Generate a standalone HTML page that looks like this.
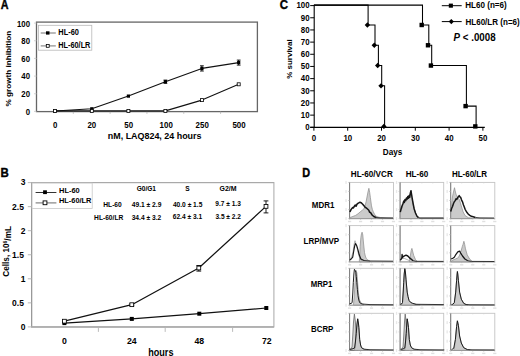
<!DOCTYPE html>
<html><head><meta charset="utf-8"><style>
html,body{margin:0;padding:0;background:#fff;width:520px;height:356px;overflow:hidden}
svg{display:block}
text{font-family:"Liberation Sans", sans-serif;fill:#000}
</style></head><body>
<svg width="520" height="356" viewBox="0 0 520 356">
<rect width="520" height="356" fill="#fff"/>
<text transform="translate(0.63 8.60) scale(1 1.160)" font-size="10.75" font-weight="bold" stroke="#000" stroke-width="0.35">A</text>
<rect x="36.50" y="22.10" width="220.90" height="89.50" fill="none" stroke="#666" stroke-width="1.3" />
<line x1="34.00" y1="111.40" x2="36.50" y2="111.40" stroke="#c8c8c8" stroke-width="0.8" />
<text transform="translate(30.00 114.50) scale(1 1.160)" font-size="7.80" font-weight="bold" text-anchor="end" >0</text>
<line x1="34.00" y1="93.74" x2="36.50" y2="93.74" stroke="#c8c8c8" stroke-width="0.8" />
<text transform="translate(30.00 96.92) scale(1 1.160)" font-size="7.80" font-weight="bold" text-anchor="end" >20</text>
<line x1="34.00" y1="76.08" x2="36.50" y2="76.08" stroke="#c8c8c8" stroke-width="0.8" />
<text transform="translate(30.00 79.34) scale(1 1.160)" font-size="7.80" font-weight="bold" text-anchor="end" >40</text>
<line x1="34.00" y1="58.42" x2="36.50" y2="58.42" stroke="#c8c8c8" stroke-width="0.8" />
<text transform="translate(30.00 61.76) scale(1 1.160)" font-size="7.80" font-weight="bold" text-anchor="end" >60</text>
<line x1="34.00" y1="40.76" x2="36.50" y2="40.76" stroke="#c8c8c8" stroke-width="0.8" />
<text transform="translate(30.00 44.18) scale(1 1.160)" font-size="7.80" font-weight="bold" text-anchor="end" >80</text>
<line x1="34.00" y1="23.10" x2="36.50" y2="23.10" stroke="#c8c8c8" stroke-width="0.8" />
<text transform="translate(30.00 26.60) scale(1 1.160)" font-size="7.80" font-weight="bold" text-anchor="end" >100</text>
<line x1="73.32" y1="111.60" x2="73.32" y2="113.80" stroke="#b0b0b0" stroke-width="0.8" />
<line x1="110.13" y1="111.60" x2="110.13" y2="113.80" stroke="#b0b0b0" stroke-width="0.8" />
<line x1="146.95" y1="111.60" x2="146.95" y2="113.80" stroke="#b0b0b0" stroke-width="0.8" />
<line x1="183.77" y1="111.60" x2="183.77" y2="113.80" stroke="#b0b0b0" stroke-width="0.8" />
<line x1="220.58" y1="111.60" x2="220.58" y2="113.80" stroke="#b0b0b0" stroke-width="0.8" />
<text transform="translate(55.20 127.60) scale(1 1.100)" font-size="7.90" font-weight="bold" text-anchor="middle" >0</text>
<text transform="translate(91.80 127.60) scale(1 1.100)" font-size="7.90" font-weight="bold" text-anchor="middle" >20</text>
<text transform="translate(128.70 127.60) scale(1 1.100)" font-size="7.90" font-weight="bold" text-anchor="middle" >50</text>
<text transform="translate(166.20 127.60) scale(1 1.100)" font-size="7.90" font-weight="bold" text-anchor="middle" >100</text>
<text transform="translate(202.20 127.60) scale(1 1.100)" font-size="7.90" font-weight="bold" text-anchor="middle" >250</text>
<text transform="translate(239.00 127.60) scale(1 1.100)" font-size="7.90" font-weight="bold" text-anchor="middle" >500</text>
<text transform="translate(107.82 138.80) scale(1 1.080)" font-size="8.93" font-weight="bold" >nM, LAQ824, 24 hours</text>
<text transform="translate(11.00 106.40) rotate(-90) scale(1 0.930)" font-size="8.18" font-weight="bold">% growth inhibition</text>
<rect x="38.50" y="25.30" width="53.30" height="24.90" fill="#fff" stroke="#b8b8b8" stroke-width="0.8" />
<line x1="40.70" y1="33.00" x2="55.80" y2="33.00" stroke="#808080" stroke-width="1.1" />
<rect x="46.00" y="31.30" width="3.50" height="3.30" fill="#000" stroke="none" stroke-width="1" />
<text transform="translate(58.32 34.80) scale(1 1.150)" font-size="7.42" font-weight="bold" >HL-60</text>
<line x1="40.70" y1="45.90" x2="55.80" y2="45.90" stroke="#808080" stroke-width="1.1" />
<rect x="46.30" y="44.40" width="2.90" height="2.90" fill="#fff" stroke="#000" stroke-width="0.8" />
<text transform="translate(58.32 47.80) scale(1 1.150)" font-size="7.33" font-weight="bold" >HL-60/LR</text>
<polyline points="55.00,110.90 91.80,110.90 128.40,110.90 165.40,110.90 201.90,100.10 238.70,84.30" fill="none" stroke="#111" stroke-width="1.1" stroke-linejoin="round"/>
<polyline points="55.00,111.00 91.80,108.80 128.40,96.10 165.40,81.70 201.90,68.40 238.70,62.60" fill="none" stroke="#111" stroke-width="1.1" stroke-linejoin="round"/>
<line x1="165.40" y1="80.10" x2="165.40" y2="83.30" stroke="#000" stroke-width="1" />
<line x1="163.50" y1="80.10" x2="167.30" y2="80.10" stroke="#000" stroke-width="0.9" />
<line x1="163.50" y1="83.30" x2="167.30" y2="83.30" stroke="#000" stroke-width="0.9" />
<line x1="201.90" y1="65.80" x2="201.90" y2="71.00" stroke="#000" stroke-width="1" />
<line x1="200.00" y1="65.80" x2="203.80" y2="65.80" stroke="#000" stroke-width="0.9" />
<line x1="200.00" y1="71.00" x2="203.80" y2="71.00" stroke="#000" stroke-width="0.9" />
<line x1="238.70" y1="60.10" x2="238.70" y2="65.10" stroke="#000" stroke-width="1" />
<line x1="236.80" y1="60.10" x2="240.60" y2="60.10" stroke="#000" stroke-width="0.9" />
<line x1="236.80" y1="65.10" x2="240.60" y2="65.10" stroke="#000" stroke-width="0.9" />
<rect x="53.40" y="109.40" width="3.20" height="3.20" fill="#000" stroke="none" stroke-width="1" />
<rect x="90.20" y="107.20" width="3.20" height="3.20" fill="#000" stroke="none" stroke-width="1" />
<rect x="126.80" y="94.50" width="3.20" height="3.20" fill="#000" stroke="none" stroke-width="1" />
<rect x="163.80" y="80.10" width="3.20" height="3.20" fill="#000" stroke="none" stroke-width="1" />
<rect x="200.30" y="66.80" width="3.20" height="3.20" fill="#000" stroke="none" stroke-width="1" />
<rect x="237.10" y="61.00" width="3.20" height="3.20" fill="#000" stroke="none" stroke-width="1" />
<rect x="53.50" y="109.40" width="3.00" height="3.00" fill="#fff" stroke="#000" stroke-width="0.8" />
<rect x="90.30" y="109.40" width="3.00" height="3.00" fill="#fff" stroke="#000" stroke-width="0.8" />
<rect x="126.90" y="109.40" width="3.00" height="3.00" fill="#fff" stroke="#000" stroke-width="0.8" />
<rect x="163.90" y="109.40" width="3.00" height="3.00" fill="#fff" stroke="#000" stroke-width="0.8" />
<rect x="200.40" y="98.60" width="3.00" height="3.00" fill="#fff" stroke="#000" stroke-width="0.8" />
<rect x="237.20" y="82.80" width="3.00" height="3.00" fill="#fff" stroke="#000" stroke-width="0.8" />
<text transform="translate(0.55 177.20) scale(1 1.120)" font-size="11.48" font-weight="bold" stroke="#000" stroke-width="0.35">B</text>
<rect x="31.60" y="182.60" width="242.30" height="144.30" fill="none" stroke="#b0b0b0" stroke-width="1.1" />
<line x1="31.60" y1="182.60" x2="31.60" y2="326.90" stroke="#999" stroke-width="1.2" />
<line x1="31.10" y1="326.90" x2="273.90" y2="326.90" stroke="#a8a8a8" stroke-width="1.5" />
<line x1="31.60" y1="182.60" x2="273.90" y2="182.60" stroke="#a8a8a8" stroke-width="1" />
<line x1="27.80" y1="326.90" x2="31.60" y2="326.90" stroke="#b0b0b0" stroke-width="0.9" />
<text transform="translate(25.50 329.75) scale(1 1.000)" font-size="8.50" font-weight="bold" text-anchor="end" >0</text>
<line x1="27.80" y1="302.85" x2="31.60" y2="302.85" stroke="#b0b0b0" stroke-width="0.9" />
<text transform="translate(23.90 305.70) scale(1 1.000)" font-size="8.50" font-weight="bold" text-anchor="end" >0.5</text>
<line x1="27.80" y1="278.80" x2="31.60" y2="278.80" stroke="#b0b0b0" stroke-width="0.9" />
<text transform="translate(25.50 281.65) scale(1 1.000)" font-size="8.50" font-weight="bold" text-anchor="end" >1</text>
<line x1="27.80" y1="254.75" x2="31.60" y2="254.75" stroke="#b0b0b0" stroke-width="0.9" />
<text transform="translate(23.90 257.60) scale(1 1.000)" font-size="8.50" font-weight="bold" text-anchor="end" >1.5</text>
<line x1="27.80" y1="230.70" x2="31.60" y2="230.70" stroke="#b0b0b0" stroke-width="0.9" />
<text transform="translate(25.50 233.55) scale(1 1.000)" font-size="8.50" font-weight="bold" text-anchor="end" >2</text>
<line x1="27.80" y1="206.65" x2="31.60" y2="206.65" stroke="#b0b0b0" stroke-width="0.9" />
<text transform="translate(23.90 209.50) scale(1 1.000)" font-size="8.50" font-weight="bold" text-anchor="end" >2.5</text>
<line x1="27.80" y1="182.60" x2="31.60" y2="182.60" stroke="#b0b0b0" stroke-width="0.9" />
<text transform="translate(25.50 185.45) scale(1 1.000)" font-size="8.50" font-weight="bold" text-anchor="end" >3</text>
<line x1="98.40" y1="326.90" x2="98.40" y2="331.90" stroke="#b4b4b4" stroke-width="0.9" />
<line x1="165.20" y1="326.90" x2="165.20" y2="331.90" stroke="#b4b4b4" stroke-width="0.9" />
<line x1="232.60" y1="326.90" x2="232.60" y2="331.90" stroke="#b4b4b4" stroke-width="0.9" />
<text transform="translate(64.40 344.00) scale(1 1.020)" font-size="8.70" font-weight="bold" text-anchor="middle" >0</text>
<text transform="translate(131.80 344.00) scale(1 1.020)" font-size="8.70" font-weight="bold" text-anchor="middle" >24</text>
<text transform="translate(199.30 344.00) scale(1 1.020)" font-size="8.70" font-weight="bold" text-anchor="middle" >48</text>
<text transform="translate(266.80 344.00) scale(1 1.020)" font-size="8.70" font-weight="bold" text-anchor="middle" >72</text>
<text transform="translate(160.80 356.40) scale(1 1.120)" font-size="9.10" font-weight="bold" text-anchor="middle" >hours</text>
<text transform="translate(9.40 276.63) rotate(-90) scale(1 1.100)" font-size="8.19" font-weight="bold">Cells, 10<tspan font-size="0.62em" dy="-0.42em">6</tspan><tspan dy="0.42em">/mL</tspan></text>
<rect x="32.10" y="183.10" width="60.10" height="25.40" fill="#fff" stroke="#c8c8c8" stroke-width="0.8" />
<line x1="35.60" y1="192.50" x2="56.40" y2="192.50" stroke="#333" stroke-width="1.0" />
<rect x="43.10" y="190.30" width="3.80" height="3.80" fill="#000" stroke="none" stroke-width="1" />
<text transform="translate(59.02 192.80) scale(1 1.050)" font-size="7.45" font-weight="bold" >HL-60</text>
<line x1="35.60" y1="202.90" x2="56.40" y2="202.90" stroke="#777" stroke-width="1.1" />
<rect x="43.10" y="200.90" width="3.80" height="3.80" fill="#fff" stroke="#000" stroke-width="0.9" />
<text transform="translate(59.02 203.30) scale(1 1.050)" font-size="7.40" font-weight="bold" >HL-60/LR</text>
<text transform="translate(136.64 190.60) scale(1 1.050)" font-size="6.60" font-weight="bold" >G0/G1</text>
<text transform="translate(187.50 190.90) scale(1 1.100)" font-size="6.60" font-weight="bold" text-anchor="middle" >S</text>
<text transform="translate(219.52 190.60) scale(1 1.050)" font-size="6.94" font-weight="bold" >G2/M</text>
<text transform="translate(103.27 206.50) scale(1 1.050)" font-size="6.67" font-weight="bold" >HL-60</text>
<text transform="translate(94.07 219.70) scale(1 1.050)" font-size="6.67" font-weight="bold" >HL-60/LR</text>
<text transform="translate(131.70 206.60) scale(1 1.050)" font-size="6.70" font-weight="bold" >49.1 ± 2.9</text>
<text transform="translate(131.63 219.50) scale(1 1.050)" font-size="6.67" font-weight="bold" >34.4 ± 3.2</text>
<text transform="translate(172.90 206.50) scale(1 1.050)" font-size="6.64" font-weight="bold" >40.0 ± 1.5</text>
<text transform="translate(172.77 219.30) scale(1 1.050)" font-size="6.62" font-weight="bold" >62.4 ± 3.1</text>
<text transform="translate(215.37 206.40) scale(1 1.050)" font-size="6.55" font-weight="bold" >9.7 ± 1.3</text>
<text transform="translate(215.44 218.80) scale(1 1.050)" font-size="6.57" font-weight="bold" >3.5 ± 2.2</text>
<polyline points="64.40,321.20 131.80,304.70 198.80,268.00 266.00,206.40" fill="none" stroke="#111" stroke-width="1.25" stroke-linejoin="round"/>
<polyline points="64.40,323.10 131.80,318.90 199.30,313.70 266.30,308.00" fill="none" stroke="#111" stroke-width="1.2" stroke-linejoin="round"/>
<line x1="131.80" y1="303.80" x2="131.80" y2="305.60" stroke="#000" stroke-width="0.9" />
<line x1="129.40" y1="303.80" x2="134.20" y2="303.80" stroke="#000" stroke-width="0.9" />
<line x1="129.40" y1="305.60" x2="134.20" y2="305.60" stroke="#000" stroke-width="0.9" />
<line x1="198.80" y1="265.50" x2="198.80" y2="271.10" stroke="#000" stroke-width="0.9" />
<line x1="196.40" y1="265.50" x2="201.20" y2="265.50" stroke="#000" stroke-width="0.9" />
<line x1="196.40" y1="271.10" x2="201.20" y2="271.10" stroke="#000" stroke-width="0.9" />
<line x1="266.00" y1="200.90" x2="266.00" y2="212.90" stroke="#000" stroke-width="0.9" />
<line x1="263.60" y1="200.90" x2="268.40" y2="200.90" stroke="#000" stroke-width="0.9" />
<line x1="263.60" y1="212.90" x2="268.40" y2="212.90" stroke="#000" stroke-width="0.9" />
<rect x="62.40" y="321.10" width="4.00" height="4.00" fill="#000" stroke="none" stroke-width="1" />
<rect x="129.80" y="316.90" width="4.00" height="4.00" fill="#000" stroke="none" stroke-width="1" />
<rect x="197.30" y="311.70" width="4.00" height="4.00" fill="#000" stroke="none" stroke-width="1" />
<rect x="264.30" y="306.00" width="4.00" height="4.00" fill="#000" stroke="none" stroke-width="1" />
<rect x="62.50" y="319.30" width="3.80" height="3.80" fill="#fff" stroke="#000" stroke-width="0.85" />
<rect x="129.90" y="302.80" width="3.80" height="3.80" fill="#fff" stroke="#000" stroke-width="0.85" />
<rect x="196.90" y="266.10" width="3.80" height="3.80" fill="#fff" stroke="#000" stroke-width="0.85" />
<rect x="264.10" y="204.50" width="3.80" height="3.80" fill="#fff" stroke="#000" stroke-width="0.85" />
<text transform="translate(279.74 8.60) scale(1 1.160)" font-size="11.45" font-weight="bold" stroke="#000" stroke-width="0.35">C</text>
<line x1="314.20" y1="5.10" x2="314.20" y2="128.00" stroke="#000" stroke-width="1.1" />
<line x1="310.20" y1="127.40" x2="484.80" y2="127.40" stroke="#000" stroke-width="1.1" />
<line x1="310.20" y1="127.30" x2="314.20" y2="127.30" stroke="#000" stroke-width="1" />
<text transform="translate(309.60 130.05) scale(1 1.050)" font-size="7.90" font-weight="bold" text-anchor="end" >0</text>
<line x1="310.20" y1="115.13" x2="314.20" y2="115.13" stroke="#000" stroke-width="1" />
<text transform="translate(309.60 117.88) scale(1 1.050)" font-size="7.90" font-weight="bold" text-anchor="end" >10</text>
<line x1="310.20" y1="102.96" x2="314.20" y2="102.96" stroke="#000" stroke-width="1" />
<text transform="translate(309.60 105.71) scale(1 1.050)" font-size="7.90" font-weight="bold" text-anchor="end" >20</text>
<line x1="310.20" y1="90.79" x2="314.20" y2="90.79" stroke="#000" stroke-width="1" />
<text transform="translate(309.60 93.54) scale(1 1.050)" font-size="7.90" font-weight="bold" text-anchor="end" >30</text>
<line x1="310.20" y1="78.62" x2="314.20" y2="78.62" stroke="#000" stroke-width="1" />
<text transform="translate(309.60 81.37) scale(1 1.050)" font-size="7.90" font-weight="bold" text-anchor="end" >40</text>
<line x1="310.20" y1="66.45" x2="314.20" y2="66.45" stroke="#000" stroke-width="1" />
<text transform="translate(309.60 69.20) scale(1 1.050)" font-size="7.90" font-weight="bold" text-anchor="end" >50</text>
<line x1="310.20" y1="54.28" x2="314.20" y2="54.28" stroke="#000" stroke-width="1" />
<text transform="translate(309.60 57.03) scale(1 1.050)" font-size="7.90" font-weight="bold" text-anchor="end" >60</text>
<line x1="310.20" y1="42.11" x2="314.20" y2="42.11" stroke="#000" stroke-width="1" />
<text transform="translate(309.60 44.86) scale(1 1.050)" font-size="7.90" font-weight="bold" text-anchor="end" >70</text>
<line x1="310.20" y1="29.94" x2="314.20" y2="29.94" stroke="#000" stroke-width="1" />
<text transform="translate(309.60 32.69) scale(1 1.050)" font-size="7.90" font-weight="bold" text-anchor="end" >80</text>
<line x1="310.20" y1="17.77" x2="314.20" y2="17.77" stroke="#000" stroke-width="1" />
<text transform="translate(309.60 20.52) scale(1 1.050)" font-size="7.90" font-weight="bold" text-anchor="end" >90</text>
<line x1="310.20" y1="5.60" x2="314.20" y2="5.60" stroke="#000" stroke-width="1" />
<text transform="translate(309.60 8.35) scale(1 1.050)" font-size="7.90" font-weight="bold" text-anchor="end" >100</text>
<line x1="313.90" y1="127.40" x2="313.90" y2="130.70" stroke="#000" stroke-width="1" />
<text transform="translate(314.00 140.80) scale(1 1.100)" font-size="7.90" font-weight="bold" text-anchor="middle" >0</text>
<line x1="347.70" y1="127.40" x2="347.70" y2="130.70" stroke="#000" stroke-width="1" />
<text transform="translate(347.80 140.80) scale(1 1.100)" font-size="7.90" font-weight="bold" text-anchor="middle" >10</text>
<line x1="381.50" y1="127.40" x2="381.50" y2="130.70" stroke="#000" stroke-width="1" />
<text transform="translate(381.60 140.80) scale(1 1.100)" font-size="7.90" font-weight="bold" text-anchor="middle" >20</text>
<line x1="415.30" y1="127.40" x2="415.30" y2="130.70" stroke="#000" stroke-width="1" />
<text transform="translate(415.40 140.80) scale(1 1.100)" font-size="7.90" font-weight="bold" text-anchor="middle" >30</text>
<line x1="449.10" y1="127.40" x2="449.10" y2="130.70" stroke="#000" stroke-width="1" />
<text transform="translate(449.20 140.80) scale(1 1.100)" font-size="7.90" font-weight="bold" text-anchor="middle" >40</text>
<line x1="482.90" y1="127.40" x2="482.90" y2="130.70" stroke="#000" stroke-width="1" />
<text transform="translate(483.00 140.80) scale(1 1.100)" font-size="7.90" font-weight="bold" text-anchor="middle" >50</text>
<text transform="translate(382.87 154.90) scale(1 1.080)" font-size="8.18" font-weight="bold" >Days</text>
<text transform="translate(292.10 78.70) rotate(-90) scale(1 1.000)" font-size="7.96" font-weight="bold">% survival</text>
<path d="M313.90,5.1 H422.50 V24.99 H428.80 V45.26 H431.70 V65.55 H466.40 V106.11 H476.10 V126.40" stroke="#000" stroke-width="1.05" fill="none" />
<path d="M313.90,5.1 H368.10 V24.99 H375.00 V45.26 H378.40 V65.55 H381.70 V85.84 H384.60 V126.40" stroke="#000" stroke-width="1.05" fill="none" />
<rect x="419.50" y="22.79" width="4.40" height="4.40" fill="#000" stroke="none" stroke-width="1" />
<rect x="425.80" y="43.06" width="4.40" height="4.40" fill="#000" stroke="none" stroke-width="1" />
<rect x="428.70" y="63.35" width="4.40" height="4.40" fill="#000" stroke="none" stroke-width="1" />
<rect x="463.40" y="103.91" width="4.40" height="4.40" fill="#000" stroke="none" stroke-width="1" />
<rect x="473.10" y="124.20" width="4.40" height="4.40" fill="#000" stroke="none" stroke-width="1" />
<path d="M367.40,22.29 L370.10,24.99 L367.40,27.69 L364.70,24.99 Z" stroke="none" stroke-width="0" fill="#000" />
<path d="M374.30,42.56 L377.00,45.26 L374.30,47.96 L371.60,45.26 Z" stroke="none" stroke-width="0" fill="#000" />
<path d="M377.70,62.85 L380.40,65.55 L377.70,68.25 L375.00,65.55 Z" stroke="none" stroke-width="0" fill="#000" />
<path d="M381.00,83.14 L383.70,85.84 L381.00,88.54 L378.30,85.84 Z" stroke="none" stroke-width="0" fill="#000" />
<path d="M383.90,123.70 L386.60,126.40 L383.90,129.10 L381.20,126.40 Z" stroke="none" stroke-width="0" fill="#000" />
<line x1="441.80" y1="5.70" x2="461.70" y2="5.70" stroke="#000" stroke-width="1" />
<rect x="448.80" y="3.60" width="4.10" height="4.10" fill="#000" stroke="none" stroke-width="1" />
<text transform="translate(465.27 8.30) scale(1 1.100)" font-size="8.08" font-weight="bold" >HL60 (n=6)</text>
<line x1="441.80" y1="21.60" x2="461.70" y2="21.60" stroke="#000" stroke-width="1" />
<path d="M451.30,19.00 L453.90,21.60 L451.30,24.20 L448.70,21.60 Z" stroke="none" stroke-width="0" fill="#000" />
<text transform="translate(465.44 24.50) scale(1 1.100)" font-size="8.05" font-weight="bold" text-anchor="start" >HL60/LR (n=6)</text>
<text transform="translate(453.57 40.70) scale(1 1.050)" font-size="9.75" font-weight="bold" ><tspan font-style="italic">P</tspan> &lt; .0008</text>
<text transform="translate(302.29 177.10) scale(1 1.120)" font-size="10.89" font-weight="bold" stroke="#000" stroke-width="0.35">D</text>
<text transform="translate(350.77 177.10) scale(1 1.120)" font-size="8.13" font-weight="bold" >HL-60/VCR</text>
<text transform="translate(405.67 177.10) scale(1 1.120)" font-size="8.13" font-weight="bold" >HL-60</text>
<text transform="translate(451.88 177.10) scale(1 1.120)" font-size="8.00" font-weight="bold" >HL-60/LR</text>
<text transform="translate(311.78 208.00) scale(1 1.100)" font-size="7.99" font-weight="bold" >MDR1</text>
<text transform="translate(303.48 244.00) scale(1 1.100)" font-size="8.05" font-weight="bold" >LRP/MVP</text>
<text transform="translate(310.69 286.70) scale(1 1.100)" font-size="7.82" font-weight="bold" >MRP1</text>
<text transform="translate(310.99 331.90) scale(1 1.100)" font-size="7.90" font-weight="bold" >BCRP</text>
<rect x="349.60" y="182.40" width="43.90" height="36.20" fill="none" stroke="#c4c4c4" stroke-width="0.9" />
<line x1="349.60" y1="182.40" x2="349.60" y2="218.60" stroke="#7c7c7c" stroke-width="1.0" />
<line x1="349.60" y1="218.60" x2="393.50" y2="218.60" stroke="#9a9a9a" stroke-width="0.9" />
<line x1="348.00" y1="218.60" x2="349.60" y2="218.60" stroke="#b8b8b8" stroke-width="0.6" />
<rect x="345.40" y="217.10" width="1.30" height="3.00" fill="#e8e8e8" stroke="none" stroke-width="1" />
<line x1="348.00" y1="209.55" x2="349.60" y2="209.55" stroke="#b8b8b8" stroke-width="0.6" />
<rect x="345.40" y="208.05" width="1.30" height="3.00" fill="#e8e8e8" stroke="none" stroke-width="1" />
<line x1="348.00" y1="200.50" x2="349.60" y2="200.50" stroke="#b8b8b8" stroke-width="0.6" />
<rect x="345.40" y="199.00" width="1.30" height="3.00" fill="#e8e8e8" stroke="none" stroke-width="1" />
<line x1="348.00" y1="191.45" x2="349.60" y2="191.45" stroke="#b8b8b8" stroke-width="0.6" />
<rect x="345.40" y="189.95" width="1.30" height="3.00" fill="#e8e8e8" stroke="none" stroke-width="1" />
<line x1="348.00" y1="182.40" x2="349.60" y2="182.40" stroke="#b8b8b8" stroke-width="0.6" />
<rect x="345.40" y="180.90" width="1.30" height="3.00" fill="#e8e8e8" stroke="none" stroke-width="1" />
<line x1="349.60" y1="218.60" x2="349.60" y2="219.90" stroke="#b8b8b8" stroke-width="0.6" />
<rect x="348.00" y="220.80" width="3.20" height="1.40" fill="#e0e0e0" stroke="none" stroke-width="1" />
<line x1="360.58" y1="218.60" x2="360.58" y2="219.90" stroke="#b8b8b8" stroke-width="0.6" />
<rect x="358.98" y="220.80" width="3.20" height="1.40" fill="#e0e0e0" stroke="none" stroke-width="1" />
<line x1="371.55" y1="218.60" x2="371.55" y2="219.90" stroke="#b8b8b8" stroke-width="0.6" />
<rect x="369.95" y="220.80" width="3.20" height="1.40" fill="#e0e0e0" stroke="none" stroke-width="1" />
<line x1="382.52" y1="218.60" x2="382.52" y2="219.90" stroke="#b8b8b8" stroke-width="0.6" />
<rect x="380.92" y="220.80" width="3.20" height="1.40" fill="#e0e0e0" stroke="none" stroke-width="1" />
<line x1="393.50" y1="218.60" x2="393.50" y2="219.90" stroke="#b8b8b8" stroke-width="0.6" />
<rect x="391.90" y="220.80" width="3.20" height="1.40" fill="#e0e0e0" stroke="none" stroke-width="1" />
<line x1="360.58" y1="182.40" x2="360.58" y2="183.60" stroke="#d0d0d0" stroke-width="0.5" />
<line x1="371.55" y1="182.40" x2="371.55" y2="183.60" stroke="#d0d0d0" stroke-width="0.5" />
<line x1="382.52" y1="182.40" x2="382.52" y2="183.60" stroke="#d0d0d0" stroke-width="0.5" />
<rect x="400.10" y="182.40" width="43.60" height="36.20" fill="none" stroke="#c4c4c4" stroke-width="0.9" />
<line x1="400.10" y1="182.40" x2="400.10" y2="218.60" stroke="#7c7c7c" stroke-width="1.0" />
<line x1="400.10" y1="218.60" x2="443.70" y2="218.60" stroke="#9a9a9a" stroke-width="0.9" />
<line x1="398.50" y1="218.60" x2="400.10" y2="218.60" stroke="#b8b8b8" stroke-width="0.6" />
<rect x="395.90" y="217.10" width="1.30" height="3.00" fill="#e8e8e8" stroke="none" stroke-width="1" />
<line x1="398.50" y1="209.55" x2="400.10" y2="209.55" stroke="#b8b8b8" stroke-width="0.6" />
<rect x="395.90" y="208.05" width="1.30" height="3.00" fill="#e8e8e8" stroke="none" stroke-width="1" />
<line x1="398.50" y1="200.50" x2="400.10" y2="200.50" stroke="#b8b8b8" stroke-width="0.6" />
<rect x="395.90" y="199.00" width="1.30" height="3.00" fill="#e8e8e8" stroke="none" stroke-width="1" />
<line x1="398.50" y1="191.45" x2="400.10" y2="191.45" stroke="#b8b8b8" stroke-width="0.6" />
<rect x="395.90" y="189.95" width="1.30" height="3.00" fill="#e8e8e8" stroke="none" stroke-width="1" />
<line x1="398.50" y1="182.40" x2="400.10" y2="182.40" stroke="#b8b8b8" stroke-width="0.6" />
<rect x="395.90" y="180.90" width="1.30" height="3.00" fill="#e8e8e8" stroke="none" stroke-width="1" />
<line x1="400.10" y1="218.60" x2="400.10" y2="219.90" stroke="#b8b8b8" stroke-width="0.6" />
<rect x="398.50" y="220.80" width="3.20" height="1.40" fill="#e0e0e0" stroke="none" stroke-width="1" />
<line x1="411.00" y1="218.60" x2="411.00" y2="219.90" stroke="#b8b8b8" stroke-width="0.6" />
<rect x="409.40" y="220.80" width="3.20" height="1.40" fill="#e0e0e0" stroke="none" stroke-width="1" />
<line x1="421.90" y1="218.60" x2="421.90" y2="219.90" stroke="#b8b8b8" stroke-width="0.6" />
<rect x="420.30" y="220.80" width="3.20" height="1.40" fill="#e0e0e0" stroke="none" stroke-width="1" />
<line x1="432.80" y1="218.60" x2="432.80" y2="219.90" stroke="#b8b8b8" stroke-width="0.6" />
<rect x="431.20" y="220.80" width="3.20" height="1.40" fill="#e0e0e0" stroke="none" stroke-width="1" />
<line x1="443.70" y1="218.60" x2="443.70" y2="219.90" stroke="#b8b8b8" stroke-width="0.6" />
<rect x="442.10" y="220.80" width="3.20" height="1.40" fill="#e0e0e0" stroke="none" stroke-width="1" />
<line x1="411.00" y1="182.40" x2="411.00" y2="183.60" stroke="#d0d0d0" stroke-width="0.5" />
<line x1="421.90" y1="182.40" x2="421.90" y2="183.60" stroke="#d0d0d0" stroke-width="0.5" />
<line x1="432.80" y1="182.40" x2="432.80" y2="183.60" stroke="#d0d0d0" stroke-width="0.5" />
<rect x="450.70" y="182.40" width="44.10" height="36.20" fill="none" stroke="#c4c4c4" stroke-width="0.9" />
<line x1="450.70" y1="182.40" x2="450.70" y2="218.60" stroke="#7c7c7c" stroke-width="1.0" />
<line x1="450.70" y1="218.60" x2="494.80" y2="218.60" stroke="#9a9a9a" stroke-width="0.9" />
<line x1="449.10" y1="218.60" x2="450.70" y2="218.60" stroke="#b8b8b8" stroke-width="0.6" />
<rect x="446.50" y="217.10" width="1.30" height="3.00" fill="#e8e8e8" stroke="none" stroke-width="1" />
<line x1="449.10" y1="209.55" x2="450.70" y2="209.55" stroke="#b8b8b8" stroke-width="0.6" />
<rect x="446.50" y="208.05" width="1.30" height="3.00" fill="#e8e8e8" stroke="none" stroke-width="1" />
<line x1="449.10" y1="200.50" x2="450.70" y2="200.50" stroke="#b8b8b8" stroke-width="0.6" />
<rect x="446.50" y="199.00" width="1.30" height="3.00" fill="#e8e8e8" stroke="none" stroke-width="1" />
<line x1="449.10" y1="191.45" x2="450.70" y2="191.45" stroke="#b8b8b8" stroke-width="0.6" />
<rect x="446.50" y="189.95" width="1.30" height="3.00" fill="#e8e8e8" stroke="none" stroke-width="1" />
<line x1="449.10" y1="182.40" x2="450.70" y2="182.40" stroke="#b8b8b8" stroke-width="0.6" />
<rect x="446.50" y="180.90" width="1.30" height="3.00" fill="#e8e8e8" stroke="none" stroke-width="1" />
<line x1="450.70" y1="218.60" x2="450.70" y2="219.90" stroke="#b8b8b8" stroke-width="0.6" />
<rect x="449.10" y="220.80" width="3.20" height="1.40" fill="#e0e0e0" stroke="none" stroke-width="1" />
<line x1="461.73" y1="218.60" x2="461.73" y2="219.90" stroke="#b8b8b8" stroke-width="0.6" />
<rect x="460.12" y="220.80" width="3.20" height="1.40" fill="#e0e0e0" stroke="none" stroke-width="1" />
<line x1="472.75" y1="218.60" x2="472.75" y2="219.90" stroke="#b8b8b8" stroke-width="0.6" />
<rect x="471.15" y="220.80" width="3.20" height="1.40" fill="#e0e0e0" stroke="none" stroke-width="1" />
<line x1="483.77" y1="218.60" x2="483.77" y2="219.90" stroke="#b8b8b8" stroke-width="0.6" />
<rect x="482.17" y="220.80" width="3.20" height="1.40" fill="#e0e0e0" stroke="none" stroke-width="1" />
<line x1="494.80" y1="218.60" x2="494.80" y2="219.90" stroke="#b8b8b8" stroke-width="0.6" />
<rect x="493.20" y="220.80" width="3.20" height="1.40" fill="#e0e0e0" stroke="none" stroke-width="1" />
<line x1="461.73" y1="182.40" x2="461.73" y2="183.60" stroke="#d0d0d0" stroke-width="0.5" />
<line x1="472.75" y1="182.40" x2="472.75" y2="183.60" stroke="#d0d0d0" stroke-width="0.5" />
<line x1="483.77" y1="182.40" x2="483.77" y2="183.60" stroke="#d0d0d0" stroke-width="0.5" />
<rect x="349.60" y="225.60" width="43.90" height="36.30" fill="none" stroke="#c4c4c4" stroke-width="0.9" />
<line x1="349.60" y1="225.60" x2="349.60" y2="261.90" stroke="#7c7c7c" stroke-width="1.0" />
<line x1="349.60" y1="261.90" x2="393.50" y2="261.90" stroke="#9a9a9a" stroke-width="0.9" />
<line x1="348.00" y1="261.90" x2="349.60" y2="261.90" stroke="#b8b8b8" stroke-width="0.6" />
<rect x="345.40" y="260.40" width="1.30" height="3.00" fill="#e8e8e8" stroke="none" stroke-width="1" />
<line x1="348.00" y1="252.82" x2="349.60" y2="252.82" stroke="#b8b8b8" stroke-width="0.6" />
<rect x="345.40" y="251.32" width="1.30" height="3.00" fill="#e8e8e8" stroke="none" stroke-width="1" />
<line x1="348.00" y1="243.75" x2="349.60" y2="243.75" stroke="#b8b8b8" stroke-width="0.6" />
<rect x="345.40" y="242.25" width="1.30" height="3.00" fill="#e8e8e8" stroke="none" stroke-width="1" />
<line x1="348.00" y1="234.67" x2="349.60" y2="234.67" stroke="#b8b8b8" stroke-width="0.6" />
<rect x="345.40" y="233.17" width="1.30" height="3.00" fill="#e8e8e8" stroke="none" stroke-width="1" />
<line x1="348.00" y1="225.60" x2="349.60" y2="225.60" stroke="#b8b8b8" stroke-width="0.6" />
<rect x="345.40" y="224.10" width="1.30" height="3.00" fill="#e8e8e8" stroke="none" stroke-width="1" />
<line x1="349.60" y1="261.90" x2="349.60" y2="263.20" stroke="#b8b8b8" stroke-width="0.6" />
<rect x="348.00" y="264.10" width="3.20" height="1.40" fill="#e0e0e0" stroke="none" stroke-width="1" />
<line x1="360.58" y1="261.90" x2="360.58" y2="263.20" stroke="#b8b8b8" stroke-width="0.6" />
<rect x="358.98" y="264.10" width="3.20" height="1.40" fill="#e0e0e0" stroke="none" stroke-width="1" />
<line x1="371.55" y1="261.90" x2="371.55" y2="263.20" stroke="#b8b8b8" stroke-width="0.6" />
<rect x="369.95" y="264.10" width="3.20" height="1.40" fill="#e0e0e0" stroke="none" stroke-width="1" />
<line x1="382.52" y1="261.90" x2="382.52" y2="263.20" stroke="#b8b8b8" stroke-width="0.6" />
<rect x="380.92" y="264.10" width="3.20" height="1.40" fill="#e0e0e0" stroke="none" stroke-width="1" />
<line x1="393.50" y1="261.90" x2="393.50" y2="263.20" stroke="#b8b8b8" stroke-width="0.6" />
<rect x="391.90" y="264.10" width="3.20" height="1.40" fill="#e0e0e0" stroke="none" stroke-width="1" />
<line x1="360.58" y1="225.60" x2="360.58" y2="226.80" stroke="#d0d0d0" stroke-width="0.5" />
<line x1="371.55" y1="225.60" x2="371.55" y2="226.80" stroke="#d0d0d0" stroke-width="0.5" />
<line x1="382.52" y1="225.60" x2="382.52" y2="226.80" stroke="#d0d0d0" stroke-width="0.5" />
<rect x="400.10" y="225.60" width="43.60" height="36.30" fill="none" stroke="#c4c4c4" stroke-width="0.9" />
<line x1="400.10" y1="225.60" x2="400.10" y2="261.90" stroke="#7c7c7c" stroke-width="1.0" />
<line x1="400.10" y1="261.90" x2="443.70" y2="261.90" stroke="#9a9a9a" stroke-width="0.9" />
<line x1="398.50" y1="261.90" x2="400.10" y2="261.90" stroke="#b8b8b8" stroke-width="0.6" />
<rect x="395.90" y="260.40" width="1.30" height="3.00" fill="#e8e8e8" stroke="none" stroke-width="1" />
<line x1="398.50" y1="252.82" x2="400.10" y2="252.82" stroke="#b8b8b8" stroke-width="0.6" />
<rect x="395.90" y="251.32" width="1.30" height="3.00" fill="#e8e8e8" stroke="none" stroke-width="1" />
<line x1="398.50" y1="243.75" x2="400.10" y2="243.75" stroke="#b8b8b8" stroke-width="0.6" />
<rect x="395.90" y="242.25" width="1.30" height="3.00" fill="#e8e8e8" stroke="none" stroke-width="1" />
<line x1="398.50" y1="234.67" x2="400.10" y2="234.67" stroke="#b8b8b8" stroke-width="0.6" />
<rect x="395.90" y="233.17" width="1.30" height="3.00" fill="#e8e8e8" stroke="none" stroke-width="1" />
<line x1="398.50" y1="225.60" x2="400.10" y2="225.60" stroke="#b8b8b8" stroke-width="0.6" />
<rect x="395.90" y="224.10" width="1.30" height="3.00" fill="#e8e8e8" stroke="none" stroke-width="1" />
<line x1="400.10" y1="261.90" x2="400.10" y2="263.20" stroke="#b8b8b8" stroke-width="0.6" />
<rect x="398.50" y="264.10" width="3.20" height="1.40" fill="#e0e0e0" stroke="none" stroke-width="1" />
<line x1="411.00" y1="261.90" x2="411.00" y2="263.20" stroke="#b8b8b8" stroke-width="0.6" />
<rect x="409.40" y="264.10" width="3.20" height="1.40" fill="#e0e0e0" stroke="none" stroke-width="1" />
<line x1="421.90" y1="261.90" x2="421.90" y2="263.20" stroke="#b8b8b8" stroke-width="0.6" />
<rect x="420.30" y="264.10" width="3.20" height="1.40" fill="#e0e0e0" stroke="none" stroke-width="1" />
<line x1="432.80" y1="261.90" x2="432.80" y2="263.20" stroke="#b8b8b8" stroke-width="0.6" />
<rect x="431.20" y="264.10" width="3.20" height="1.40" fill="#e0e0e0" stroke="none" stroke-width="1" />
<line x1="443.70" y1="261.90" x2="443.70" y2="263.20" stroke="#b8b8b8" stroke-width="0.6" />
<rect x="442.10" y="264.10" width="3.20" height="1.40" fill="#e0e0e0" stroke="none" stroke-width="1" />
<line x1="411.00" y1="225.60" x2="411.00" y2="226.80" stroke="#d0d0d0" stroke-width="0.5" />
<line x1="421.90" y1="225.60" x2="421.90" y2="226.80" stroke="#d0d0d0" stroke-width="0.5" />
<line x1="432.80" y1="225.60" x2="432.80" y2="226.80" stroke="#d0d0d0" stroke-width="0.5" />
<rect x="450.70" y="225.60" width="44.10" height="36.30" fill="none" stroke="#c4c4c4" stroke-width="0.9" />
<line x1="450.70" y1="225.60" x2="450.70" y2="261.90" stroke="#7c7c7c" stroke-width="1.0" />
<line x1="450.70" y1="261.90" x2="494.80" y2="261.90" stroke="#9a9a9a" stroke-width="0.9" />
<line x1="449.10" y1="261.90" x2="450.70" y2="261.90" stroke="#b8b8b8" stroke-width="0.6" />
<rect x="446.50" y="260.40" width="1.30" height="3.00" fill="#e8e8e8" stroke="none" stroke-width="1" />
<line x1="449.10" y1="252.82" x2="450.70" y2="252.82" stroke="#b8b8b8" stroke-width="0.6" />
<rect x="446.50" y="251.32" width="1.30" height="3.00" fill="#e8e8e8" stroke="none" stroke-width="1" />
<line x1="449.10" y1="243.75" x2="450.70" y2="243.75" stroke="#b8b8b8" stroke-width="0.6" />
<rect x="446.50" y="242.25" width="1.30" height="3.00" fill="#e8e8e8" stroke="none" stroke-width="1" />
<line x1="449.10" y1="234.67" x2="450.70" y2="234.67" stroke="#b8b8b8" stroke-width="0.6" />
<rect x="446.50" y="233.17" width="1.30" height="3.00" fill="#e8e8e8" stroke="none" stroke-width="1" />
<line x1="449.10" y1="225.60" x2="450.70" y2="225.60" stroke="#b8b8b8" stroke-width="0.6" />
<rect x="446.50" y="224.10" width="1.30" height="3.00" fill="#e8e8e8" stroke="none" stroke-width="1" />
<line x1="450.70" y1="261.90" x2="450.70" y2="263.20" stroke="#b8b8b8" stroke-width="0.6" />
<rect x="449.10" y="264.10" width="3.20" height="1.40" fill="#e0e0e0" stroke="none" stroke-width="1" />
<line x1="461.73" y1="261.90" x2="461.73" y2="263.20" stroke="#b8b8b8" stroke-width="0.6" />
<rect x="460.12" y="264.10" width="3.20" height="1.40" fill="#e0e0e0" stroke="none" stroke-width="1" />
<line x1="472.75" y1="261.90" x2="472.75" y2="263.20" stroke="#b8b8b8" stroke-width="0.6" />
<rect x="471.15" y="264.10" width="3.20" height="1.40" fill="#e0e0e0" stroke="none" stroke-width="1" />
<line x1="483.77" y1="261.90" x2="483.77" y2="263.20" stroke="#b8b8b8" stroke-width="0.6" />
<rect x="482.17" y="264.10" width="3.20" height="1.40" fill="#e0e0e0" stroke="none" stroke-width="1" />
<line x1="494.80" y1="261.90" x2="494.80" y2="263.20" stroke="#b8b8b8" stroke-width="0.6" />
<rect x="493.20" y="264.10" width="3.20" height="1.40" fill="#e0e0e0" stroke="none" stroke-width="1" />
<line x1="461.73" y1="225.60" x2="461.73" y2="226.80" stroke="#d0d0d0" stroke-width="0.5" />
<line x1="472.75" y1="225.60" x2="472.75" y2="226.80" stroke="#d0d0d0" stroke-width="0.5" />
<line x1="483.77" y1="225.60" x2="483.77" y2="226.80" stroke="#d0d0d0" stroke-width="0.5" />
<rect x="349.60" y="268.30" width="43.90" height="36.90" fill="none" stroke="#c4c4c4" stroke-width="0.9" />
<line x1="349.60" y1="268.30" x2="349.60" y2="305.20" stroke="#7c7c7c" stroke-width="1.0" />
<line x1="349.60" y1="305.20" x2="393.50" y2="305.20" stroke="#9a9a9a" stroke-width="0.9" />
<line x1="348.00" y1="305.20" x2="349.60" y2="305.20" stroke="#b8b8b8" stroke-width="0.6" />
<rect x="345.40" y="303.70" width="1.30" height="3.00" fill="#e8e8e8" stroke="none" stroke-width="1" />
<line x1="348.00" y1="295.98" x2="349.60" y2="295.98" stroke="#b8b8b8" stroke-width="0.6" />
<rect x="345.40" y="294.48" width="1.30" height="3.00" fill="#e8e8e8" stroke="none" stroke-width="1" />
<line x1="348.00" y1="286.75" x2="349.60" y2="286.75" stroke="#b8b8b8" stroke-width="0.6" />
<rect x="345.40" y="285.25" width="1.30" height="3.00" fill="#e8e8e8" stroke="none" stroke-width="1" />
<line x1="348.00" y1="277.52" x2="349.60" y2="277.52" stroke="#b8b8b8" stroke-width="0.6" />
<rect x="345.40" y="276.02" width="1.30" height="3.00" fill="#e8e8e8" stroke="none" stroke-width="1" />
<line x1="348.00" y1="268.30" x2="349.60" y2="268.30" stroke="#b8b8b8" stroke-width="0.6" />
<rect x="345.40" y="266.80" width="1.30" height="3.00" fill="#e8e8e8" stroke="none" stroke-width="1" />
<line x1="349.60" y1="305.20" x2="349.60" y2="306.50" stroke="#b8b8b8" stroke-width="0.6" />
<rect x="348.00" y="307.40" width="3.20" height="1.40" fill="#e0e0e0" stroke="none" stroke-width="1" />
<line x1="360.58" y1="305.20" x2="360.58" y2="306.50" stroke="#b8b8b8" stroke-width="0.6" />
<rect x="358.98" y="307.40" width="3.20" height="1.40" fill="#e0e0e0" stroke="none" stroke-width="1" />
<line x1="371.55" y1="305.20" x2="371.55" y2="306.50" stroke="#b8b8b8" stroke-width="0.6" />
<rect x="369.95" y="307.40" width="3.20" height="1.40" fill="#e0e0e0" stroke="none" stroke-width="1" />
<line x1="382.52" y1="305.20" x2="382.52" y2="306.50" stroke="#b8b8b8" stroke-width="0.6" />
<rect x="380.92" y="307.40" width="3.20" height="1.40" fill="#e0e0e0" stroke="none" stroke-width="1" />
<line x1="393.50" y1="305.20" x2="393.50" y2="306.50" stroke="#b8b8b8" stroke-width="0.6" />
<rect x="391.90" y="307.40" width="3.20" height="1.40" fill="#e0e0e0" stroke="none" stroke-width="1" />
<line x1="360.58" y1="268.30" x2="360.58" y2="269.50" stroke="#d0d0d0" stroke-width="0.5" />
<line x1="371.55" y1="268.30" x2="371.55" y2="269.50" stroke="#d0d0d0" stroke-width="0.5" />
<line x1="382.52" y1="268.30" x2="382.52" y2="269.50" stroke="#d0d0d0" stroke-width="0.5" />
<rect x="400.10" y="268.30" width="43.60" height="36.90" fill="none" stroke="#c4c4c4" stroke-width="0.9" />
<line x1="400.10" y1="268.30" x2="400.10" y2="305.20" stroke="#7c7c7c" stroke-width="1.0" />
<line x1="400.10" y1="305.20" x2="443.70" y2="305.20" stroke="#9a9a9a" stroke-width="0.9" />
<line x1="398.50" y1="305.20" x2="400.10" y2="305.20" stroke="#b8b8b8" stroke-width="0.6" />
<rect x="395.90" y="303.70" width="1.30" height="3.00" fill="#e8e8e8" stroke="none" stroke-width="1" />
<line x1="398.50" y1="295.98" x2="400.10" y2="295.98" stroke="#b8b8b8" stroke-width="0.6" />
<rect x="395.90" y="294.48" width="1.30" height="3.00" fill="#e8e8e8" stroke="none" stroke-width="1" />
<line x1="398.50" y1="286.75" x2="400.10" y2="286.75" stroke="#b8b8b8" stroke-width="0.6" />
<rect x="395.90" y="285.25" width="1.30" height="3.00" fill="#e8e8e8" stroke="none" stroke-width="1" />
<line x1="398.50" y1="277.52" x2="400.10" y2="277.52" stroke="#b8b8b8" stroke-width="0.6" />
<rect x="395.90" y="276.02" width="1.30" height="3.00" fill="#e8e8e8" stroke="none" stroke-width="1" />
<line x1="398.50" y1="268.30" x2="400.10" y2="268.30" stroke="#b8b8b8" stroke-width="0.6" />
<rect x="395.90" y="266.80" width="1.30" height="3.00" fill="#e8e8e8" stroke="none" stroke-width="1" />
<line x1="400.10" y1="305.20" x2="400.10" y2="306.50" stroke="#b8b8b8" stroke-width="0.6" />
<rect x="398.50" y="307.40" width="3.20" height="1.40" fill="#e0e0e0" stroke="none" stroke-width="1" />
<line x1="411.00" y1="305.20" x2="411.00" y2="306.50" stroke="#b8b8b8" stroke-width="0.6" />
<rect x="409.40" y="307.40" width="3.20" height="1.40" fill="#e0e0e0" stroke="none" stroke-width="1" />
<line x1="421.90" y1="305.20" x2="421.90" y2="306.50" stroke="#b8b8b8" stroke-width="0.6" />
<rect x="420.30" y="307.40" width="3.20" height="1.40" fill="#e0e0e0" stroke="none" stroke-width="1" />
<line x1="432.80" y1="305.20" x2="432.80" y2="306.50" stroke="#b8b8b8" stroke-width="0.6" />
<rect x="431.20" y="307.40" width="3.20" height="1.40" fill="#e0e0e0" stroke="none" stroke-width="1" />
<line x1="443.70" y1="305.20" x2="443.70" y2="306.50" stroke="#b8b8b8" stroke-width="0.6" />
<rect x="442.10" y="307.40" width="3.20" height="1.40" fill="#e0e0e0" stroke="none" stroke-width="1" />
<line x1="411.00" y1="268.30" x2="411.00" y2="269.50" stroke="#d0d0d0" stroke-width="0.5" />
<line x1="421.90" y1="268.30" x2="421.90" y2="269.50" stroke="#d0d0d0" stroke-width="0.5" />
<line x1="432.80" y1="268.30" x2="432.80" y2="269.50" stroke="#d0d0d0" stroke-width="0.5" />
<rect x="450.70" y="268.30" width="44.10" height="36.90" fill="none" stroke="#c4c4c4" stroke-width="0.9" />
<line x1="450.70" y1="268.30" x2="450.70" y2="305.20" stroke="#7c7c7c" stroke-width="1.0" />
<line x1="450.70" y1="305.20" x2="494.80" y2="305.20" stroke="#9a9a9a" stroke-width="0.9" />
<line x1="449.10" y1="305.20" x2="450.70" y2="305.20" stroke="#b8b8b8" stroke-width="0.6" />
<rect x="446.50" y="303.70" width="1.30" height="3.00" fill="#e8e8e8" stroke="none" stroke-width="1" />
<line x1="449.10" y1="295.98" x2="450.70" y2="295.98" stroke="#b8b8b8" stroke-width="0.6" />
<rect x="446.50" y="294.48" width="1.30" height="3.00" fill="#e8e8e8" stroke="none" stroke-width="1" />
<line x1="449.10" y1="286.75" x2="450.70" y2="286.75" stroke="#b8b8b8" stroke-width="0.6" />
<rect x="446.50" y="285.25" width="1.30" height="3.00" fill="#e8e8e8" stroke="none" stroke-width="1" />
<line x1="449.10" y1="277.52" x2="450.70" y2="277.52" stroke="#b8b8b8" stroke-width="0.6" />
<rect x="446.50" y="276.02" width="1.30" height="3.00" fill="#e8e8e8" stroke="none" stroke-width="1" />
<line x1="449.10" y1="268.30" x2="450.70" y2="268.30" stroke="#b8b8b8" stroke-width="0.6" />
<rect x="446.50" y="266.80" width="1.30" height="3.00" fill="#e8e8e8" stroke="none" stroke-width="1" />
<line x1="450.70" y1="305.20" x2="450.70" y2="306.50" stroke="#b8b8b8" stroke-width="0.6" />
<rect x="449.10" y="307.40" width="3.20" height="1.40" fill="#e0e0e0" stroke="none" stroke-width="1" />
<line x1="461.73" y1="305.20" x2="461.73" y2="306.50" stroke="#b8b8b8" stroke-width="0.6" />
<rect x="460.12" y="307.40" width="3.20" height="1.40" fill="#e0e0e0" stroke="none" stroke-width="1" />
<line x1="472.75" y1="305.20" x2="472.75" y2="306.50" stroke="#b8b8b8" stroke-width="0.6" />
<rect x="471.15" y="307.40" width="3.20" height="1.40" fill="#e0e0e0" stroke="none" stroke-width="1" />
<line x1="483.77" y1="305.20" x2="483.77" y2="306.50" stroke="#b8b8b8" stroke-width="0.6" />
<rect x="482.17" y="307.40" width="3.20" height="1.40" fill="#e0e0e0" stroke="none" stroke-width="1" />
<line x1="494.80" y1="305.20" x2="494.80" y2="306.50" stroke="#b8b8b8" stroke-width="0.6" />
<rect x="493.20" y="307.40" width="3.20" height="1.40" fill="#e0e0e0" stroke="none" stroke-width="1" />
<line x1="461.73" y1="268.30" x2="461.73" y2="269.50" stroke="#d0d0d0" stroke-width="0.5" />
<line x1="472.75" y1="268.30" x2="472.75" y2="269.50" stroke="#d0d0d0" stroke-width="0.5" />
<line x1="483.77" y1="268.30" x2="483.77" y2="269.50" stroke="#d0d0d0" stroke-width="0.5" />
<rect x="349.60" y="313.30" width="43.90" height="37.20" fill="none" stroke="#c4c4c4" stroke-width="0.9" />
<line x1="349.60" y1="313.30" x2="349.60" y2="350.50" stroke="#7c7c7c" stroke-width="1.0" />
<line x1="349.60" y1="350.50" x2="393.50" y2="350.50" stroke="#9a9a9a" stroke-width="0.9" />
<line x1="348.00" y1="350.50" x2="349.60" y2="350.50" stroke="#b8b8b8" stroke-width="0.6" />
<rect x="345.40" y="349.00" width="1.30" height="3.00" fill="#e8e8e8" stroke="none" stroke-width="1" />
<line x1="348.00" y1="341.20" x2="349.60" y2="341.20" stroke="#b8b8b8" stroke-width="0.6" />
<rect x="345.40" y="339.70" width="1.30" height="3.00" fill="#e8e8e8" stroke="none" stroke-width="1" />
<line x1="348.00" y1="331.90" x2="349.60" y2="331.90" stroke="#b8b8b8" stroke-width="0.6" />
<rect x="345.40" y="330.40" width="1.30" height="3.00" fill="#e8e8e8" stroke="none" stroke-width="1" />
<line x1="348.00" y1="322.60" x2="349.60" y2="322.60" stroke="#b8b8b8" stroke-width="0.6" />
<rect x="345.40" y="321.10" width="1.30" height="3.00" fill="#e8e8e8" stroke="none" stroke-width="1" />
<line x1="348.00" y1="313.30" x2="349.60" y2="313.30" stroke="#b8b8b8" stroke-width="0.6" />
<rect x="345.40" y="311.80" width="1.30" height="3.00" fill="#e8e8e8" stroke="none" stroke-width="1" />
<line x1="349.60" y1="350.50" x2="349.60" y2="351.80" stroke="#b8b8b8" stroke-width="0.6" />
<rect x="348.00" y="352.70" width="3.20" height="1.40" fill="#e0e0e0" stroke="none" stroke-width="1" />
<line x1="360.58" y1="350.50" x2="360.58" y2="351.80" stroke="#b8b8b8" stroke-width="0.6" />
<rect x="358.98" y="352.70" width="3.20" height="1.40" fill="#e0e0e0" stroke="none" stroke-width="1" />
<line x1="371.55" y1="350.50" x2="371.55" y2="351.80" stroke="#b8b8b8" stroke-width="0.6" />
<rect x="369.95" y="352.70" width="3.20" height="1.40" fill="#e0e0e0" stroke="none" stroke-width="1" />
<line x1="382.52" y1="350.50" x2="382.52" y2="351.80" stroke="#b8b8b8" stroke-width="0.6" />
<rect x="380.92" y="352.70" width="3.20" height="1.40" fill="#e0e0e0" stroke="none" stroke-width="1" />
<line x1="393.50" y1="350.50" x2="393.50" y2="351.80" stroke="#b8b8b8" stroke-width="0.6" />
<rect x="391.90" y="352.70" width="3.20" height="1.40" fill="#e0e0e0" stroke="none" stroke-width="1" />
<line x1="360.58" y1="313.30" x2="360.58" y2="314.50" stroke="#d0d0d0" stroke-width="0.5" />
<line x1="371.55" y1="313.30" x2="371.55" y2="314.50" stroke="#d0d0d0" stroke-width="0.5" />
<line x1="382.52" y1="313.30" x2="382.52" y2="314.50" stroke="#d0d0d0" stroke-width="0.5" />
<rect x="400.10" y="313.30" width="43.60" height="37.20" fill="none" stroke="#c4c4c4" stroke-width="0.9" />
<line x1="400.10" y1="313.30" x2="400.10" y2="350.50" stroke="#7c7c7c" stroke-width="1.0" />
<line x1="400.10" y1="350.50" x2="443.70" y2="350.50" stroke="#9a9a9a" stroke-width="0.9" />
<line x1="398.50" y1="350.50" x2="400.10" y2="350.50" stroke="#b8b8b8" stroke-width="0.6" />
<rect x="395.90" y="349.00" width="1.30" height="3.00" fill="#e8e8e8" stroke="none" stroke-width="1" />
<line x1="398.50" y1="341.20" x2="400.10" y2="341.20" stroke="#b8b8b8" stroke-width="0.6" />
<rect x="395.90" y="339.70" width="1.30" height="3.00" fill="#e8e8e8" stroke="none" stroke-width="1" />
<line x1="398.50" y1="331.90" x2="400.10" y2="331.90" stroke="#b8b8b8" stroke-width="0.6" />
<rect x="395.90" y="330.40" width="1.30" height="3.00" fill="#e8e8e8" stroke="none" stroke-width="1" />
<line x1="398.50" y1="322.60" x2="400.10" y2="322.60" stroke="#b8b8b8" stroke-width="0.6" />
<rect x="395.90" y="321.10" width="1.30" height="3.00" fill="#e8e8e8" stroke="none" stroke-width="1" />
<line x1="398.50" y1="313.30" x2="400.10" y2="313.30" stroke="#b8b8b8" stroke-width="0.6" />
<rect x="395.90" y="311.80" width="1.30" height="3.00" fill="#e8e8e8" stroke="none" stroke-width="1" />
<line x1="400.10" y1="350.50" x2="400.10" y2="351.80" stroke="#b8b8b8" stroke-width="0.6" />
<rect x="398.50" y="352.70" width="3.20" height="1.40" fill="#e0e0e0" stroke="none" stroke-width="1" />
<line x1="411.00" y1="350.50" x2="411.00" y2="351.80" stroke="#b8b8b8" stroke-width="0.6" />
<rect x="409.40" y="352.70" width="3.20" height="1.40" fill="#e0e0e0" stroke="none" stroke-width="1" />
<line x1="421.90" y1="350.50" x2="421.90" y2="351.80" stroke="#b8b8b8" stroke-width="0.6" />
<rect x="420.30" y="352.70" width="3.20" height="1.40" fill="#e0e0e0" stroke="none" stroke-width="1" />
<line x1="432.80" y1="350.50" x2="432.80" y2="351.80" stroke="#b8b8b8" stroke-width="0.6" />
<rect x="431.20" y="352.70" width="3.20" height="1.40" fill="#e0e0e0" stroke="none" stroke-width="1" />
<line x1="443.70" y1="350.50" x2="443.70" y2="351.80" stroke="#b8b8b8" stroke-width="0.6" />
<rect x="442.10" y="352.70" width="3.20" height="1.40" fill="#e0e0e0" stroke="none" stroke-width="1" />
<line x1="411.00" y1="313.30" x2="411.00" y2="314.50" stroke="#d0d0d0" stroke-width="0.5" />
<line x1="421.90" y1="313.30" x2="421.90" y2="314.50" stroke="#d0d0d0" stroke-width="0.5" />
<line x1="432.80" y1="313.30" x2="432.80" y2="314.50" stroke="#d0d0d0" stroke-width="0.5" />
<rect x="450.70" y="313.30" width="44.10" height="37.20" fill="none" stroke="#c4c4c4" stroke-width="0.9" />
<line x1="450.70" y1="313.30" x2="450.70" y2="350.50" stroke="#7c7c7c" stroke-width="1.0" />
<line x1="450.70" y1="350.50" x2="494.80" y2="350.50" stroke="#9a9a9a" stroke-width="0.9" />
<line x1="449.10" y1="350.50" x2="450.70" y2="350.50" stroke="#b8b8b8" stroke-width="0.6" />
<rect x="446.50" y="349.00" width="1.30" height="3.00" fill="#e8e8e8" stroke="none" stroke-width="1" />
<line x1="449.10" y1="341.20" x2="450.70" y2="341.20" stroke="#b8b8b8" stroke-width="0.6" />
<rect x="446.50" y="339.70" width="1.30" height="3.00" fill="#e8e8e8" stroke="none" stroke-width="1" />
<line x1="449.10" y1="331.90" x2="450.70" y2="331.90" stroke="#b8b8b8" stroke-width="0.6" />
<rect x="446.50" y="330.40" width="1.30" height="3.00" fill="#e8e8e8" stroke="none" stroke-width="1" />
<line x1="449.10" y1="322.60" x2="450.70" y2="322.60" stroke="#b8b8b8" stroke-width="0.6" />
<rect x="446.50" y="321.10" width="1.30" height="3.00" fill="#e8e8e8" stroke="none" stroke-width="1" />
<line x1="449.10" y1="313.30" x2="450.70" y2="313.30" stroke="#b8b8b8" stroke-width="0.6" />
<rect x="446.50" y="311.80" width="1.30" height="3.00" fill="#e8e8e8" stroke="none" stroke-width="1" />
<line x1="450.70" y1="350.50" x2="450.70" y2="351.80" stroke="#b8b8b8" stroke-width="0.6" />
<rect x="449.10" y="352.70" width="3.20" height="1.40" fill="#e0e0e0" stroke="none" stroke-width="1" />
<line x1="461.73" y1="350.50" x2="461.73" y2="351.80" stroke="#b8b8b8" stroke-width="0.6" />
<rect x="460.12" y="352.70" width="3.20" height="1.40" fill="#e0e0e0" stroke="none" stroke-width="1" />
<line x1="472.75" y1="350.50" x2="472.75" y2="351.80" stroke="#b8b8b8" stroke-width="0.6" />
<rect x="471.15" y="352.70" width="3.20" height="1.40" fill="#e0e0e0" stroke="none" stroke-width="1" />
<line x1="483.77" y1="350.50" x2="483.77" y2="351.80" stroke="#b8b8b8" stroke-width="0.6" />
<rect x="482.17" y="352.70" width="3.20" height="1.40" fill="#e0e0e0" stroke="none" stroke-width="1" />
<line x1="494.80" y1="350.50" x2="494.80" y2="351.80" stroke="#b8b8b8" stroke-width="0.6" />
<rect x="493.20" y="352.70" width="3.20" height="1.40" fill="#e0e0e0" stroke="none" stroke-width="1" />
<line x1="461.73" y1="313.30" x2="461.73" y2="314.50" stroke="#d0d0d0" stroke-width="0.5" />
<line x1="472.75" y1="313.30" x2="472.75" y2="314.50" stroke="#d0d0d0" stroke-width="0.5" />
<line x1="483.77" y1="313.30" x2="483.77" y2="314.50" stroke="#d0d0d0" stroke-width="0.5" />
<polygon points="349.70,218.60 349.70,217.60 352.00,216.80 355.60,215.40 358.00,213.80 360.30,211.80 362.30,210.20 363.90,208.90 365.20,205.50 366.20,201.20 367.20,196.00 368.00,191.80 368.90,188.30 369.70,192.50 370.40,197.70 371.50,205.90 372.40,209.50 373.30,211.80 374.50,214.20 375.70,216.00 378.00,217.00 380.40,217.50 386.00,217.90 393.00,218.10 393.00,218.60" fill="#cbcbcb" stroke="#8a8a8a" stroke-width="0.7" stroke-linejoin="round"/>
<polyline points="349.90,212.00 351.00,209.60 352.50,207.60 353.40,207.90 354.20,206.50 355.30,205.00 356.10,206.20 357.00,204.10 358.30,203.10 359.30,202.60 360.30,202.30 361.50,203.00 362.70,204.20 364.00,205.80 365.20,207.30 366.20,207.90 367.50,209.00 368.80,210.20 369.60,212.30 370.60,212.60 372.10,215.00 373.80,216.50 376.00,217.50" fill="none" stroke="#151515" stroke-width="1.55" stroke-linejoin="round"/>
<polyline points="376.00,217.50 380.00,217.90 393.00,218.00" fill="none" stroke="#222" stroke-width="0.9" stroke-linejoin="round"/>
<polygon points="400.30,218.60 400.30,211.80 401.90,208.30 403.70,202.40 404.80,200.60 405.60,199.50 406.60,197.70 407.30,198.60 407.80,196.50 409.00,195.30 409.60,196.60 410.20,193.00 411.00,190.60 411.90,197.70 413.70,207.10 415.50,213.00 417.20,216.60 419.60,218.00 443.50,218.00 443.50,218.60" fill="#cbcbcb" stroke="#8a8a8a" stroke-width="0.7" stroke-linejoin="round"/>
<polyline points="400.30,212.20 401.00,209.20 402.00,206.00 403.00,203.50 403.80,201.00 404.30,202.60 405.00,199.50 405.80,200.60 406.50,198.00 407.20,199.20 407.80,196.50 408.50,198.20 409.20,195.50 409.80,197.20 410.40,193.00 411.00,190.80 411.60,194.50 412.30,199.00 413.20,204.00 414.20,209.00 415.50,213.00 417.00,216.20 418.50,217.60" fill="none" stroke="#151515" stroke-width="1.5" stroke-linejoin="round"/>
<polyline points="418.50,217.60 420.00,218.00 443.50,218.00" fill="none" stroke="#222" stroke-width="0.9" stroke-linejoin="round"/>
<polygon points="450.80,218.60 450.80,214.00 451.60,205.00 452.30,198.00 453.10,193.60 454.50,187.70 455.20,191.00 456.00,194.20 457.80,197.70 459.60,200.00 461.30,206.00 463.10,211.80 464.90,215.40 468.40,217.70 472.00,218.10 472.00,218.60" fill="#cbcbcb" stroke="#8a8a8a" stroke-width="0.7" stroke-linejoin="round"/>
<polyline points="450.70,211.50 451.60,208.50 452.50,206.50 453.50,203.50 454.30,201.80 455.20,200.60 456.00,198.90 456.80,199.40 457.80,197.40 458.50,196.80 459.20,195.60 459.90,196.80 460.70,197.40 461.50,199.80 462.50,201.80 463.40,204.80 464.30,207.10 465.20,209.50 466.00,210.90 467.20,212.80 468.40,214.20 469.80,215.40 471.40,216.30 475.50,217.50" fill="none" stroke="#151515" stroke-width="1.5" stroke-linejoin="round"/>
<polyline points="475.50,217.50 480.00,217.90 494.00,218.00" fill="none" stroke="#222" stroke-width="0.9" stroke-linejoin="round"/>
<polygon points="359.30,261.80 359.30,261.20 359.80,255.00 360.10,246.60 360.90,237.20 361.50,233.50 362.10,232.20 362.80,235.00 363.50,243.00 364.50,252.50 365.30,256.00 366.20,258.40 368.00,260.20 370.00,261.00 370.00,261.80" fill="#cbcbcb" stroke="#8a8a8a" stroke-width="0.7" stroke-linejoin="round"/>
<polyline points="349.70,259.00 351.50,257.50 353.00,252.00 354.20,244.00 355.00,240.70 355.80,243.00 356.80,246.60 357.70,250.50 358.60,254.80 360.00,259.00 362.00,260.80" fill="none" stroke="#a0a0a0" stroke-width="0.8" stroke-linejoin="round"/>
<polyline points="349.70,260.10 351.20,259.00 352.70,257.20 353.50,252.50 354.20,248.40 354.80,245.50 355.40,243.60 356.00,244.50 356.60,245.40 357.70,248.90 358.50,252.00 359.20,254.80 360.90,259.00 363.90,260.50" fill="none" stroke="#151515" stroke-width="1.15" stroke-linejoin="round"/>
<polyline points="363.90,260.50 370.00,261.00 393.00,261.20" fill="none" stroke="#222" stroke-width="0.9" stroke-linejoin="round"/>
<polygon points="409.40,261.80 409.40,261.20 410.30,256.00 411.20,250.50 411.90,248.40 412.60,251.00 413.70,255.40 415.50,259.60 417.00,261.20 417.00,261.80" fill="#cbcbcb" stroke="#8a8a8a" stroke-width="0.7" stroke-linejoin="round"/>
<polyline points="400.30,258.50 402.00,258.50 404.30,258.40 407.20,259.60 410.00,261.00" fill="none" stroke="#a0a0a0" stroke-width="0.8" stroke-linejoin="round"/>
<polyline points="400.30,260.10 401.30,259.00 401.90,257.50 402.10,254.50 402.50,257.50 403.10,256.60 404.50,255.80 406.00,255.10 407.80,256.00 410.20,258.40 413.10,260.70" fill="none" stroke="#151515" stroke-width="1.4" stroke-linejoin="round"/>
<polyline points="413.10,260.70 416.00,261.30 443.50,261.40" fill="none" stroke="#222" stroke-width="0.9" stroke-linejoin="round"/>
<polygon points="451.20,261.80 451.20,261.20 453.00,260.00 455.40,259.00 457.50,258.00 459.00,256.60 460.20,253.50 461.30,250.10 462.30,246.50 463.10,244.20 463.90,241.30 464.70,244.50 465.50,248.90 467.20,254.80 469.60,259.00 472.00,261.20 472.00,261.80" fill="#cbcbcb" stroke="#8a8a8a" stroke-width="0.7" stroke-linejoin="round"/>
<polyline points="451.20,259.00 452.80,258.20 454.30,257.20 456.00,254.30 457.80,251.90 459.60,251.10 460.70,253.10 462.50,256.00 464.90,259.00 467.80,260.70" fill="none" stroke="#151515" stroke-width="1.25" stroke-linejoin="round"/>
<polyline points="467.80,260.70 471.40,261.40 494.30,261.50" fill="none" stroke="#222" stroke-width="0.9" stroke-linejoin="round"/>
<polygon points="353.50,305.00 353.50,304.60 354.30,295.00 355.00,283.00 355.60,274.00 356.20,270.50 356.90,273.00 357.60,282.00 358.40,293.00 359.50,300.00 361.50,303.50 364.00,304.60 364.00,305.00" fill="#cbcbcb" stroke="#8a8a8a" stroke-width="0.7" stroke-linejoin="round"/>
<polyline points="349.70,303.60 351.00,303.50 352.10,302.70 352.80,293.00 353.30,282.70 353.90,274.00 354.40,269.30 355.10,270.20 355.80,272.10 356.30,276.50 356.80,282.70 357.40,289.50 358.00,295.70 358.80,300.00 359.70,302.70 362.00,304.00" fill="none" stroke="#151515" stroke-width="0.95" stroke-linejoin="round"/>
<polyline points="362.00,304.00 370.00,304.60 393.30,304.80" fill="none" stroke="#222" stroke-width="0.9" stroke-linejoin="round"/>
<polygon points="401.50,305.00 401.50,304.60 402.50,302.50 403.20,292.00 403.70,282.70 404.20,274.00 404.80,268.70 405.40,272.00 406.00,279.20 406.60,286.00 407.20,292.10 408.00,296.50 409.00,300.40 410.50,302.30 412.50,303.30 416.00,304.30 420.00,304.60 420.00,305.00" fill="#cbcbcb" stroke="#8a8a8a" stroke-width="0.7" stroke-linejoin="round"/>
<polyline points="400.30,304.30 401.50,304.00 402.50,302.50 403.20,292.00 403.70,282.70 404.20,274.00 404.80,268.70 405.40,272.00 406.00,279.20 406.60,286.00 407.20,292.10 408.00,296.50 409.00,300.40 410.50,302.30 412.50,303.30 416.00,304.30" fill="none" stroke="#151515" stroke-width="0.95" stroke-linejoin="round"/>
<polyline points="416.00,304.30 443.80,304.60" fill="none" stroke="#222" stroke-width="0.9" stroke-linejoin="round"/>
<polygon points="452.50,305.00 452.50,304.80 454.30,302.70 455.70,292.10 456.60,280.30 457.40,271.50 458.40,280.30 459.60,292.10 461.30,299.20 463.70,303.30 466.00,304.50 468.00,304.80 468.00,305.00" fill="#cbcbcb" stroke="#8a8a8a" stroke-width="0.7" stroke-linejoin="round"/>
<polyline points="451.50,304.60 452.80,304.20 454.30,302.70 455.70,292.10 456.60,280.30 457.10,274.00 457.40,271.50 457.80,274.00 458.40,280.30 459.60,292.10 461.30,299.20 463.70,303.30 466.00,304.50" fill="none" stroke="#151515" stroke-width="0.95" stroke-linejoin="round"/>
<polyline points="466.00,304.50 470.00,304.80 494.50,304.90" fill="none" stroke="#222" stroke-width="0.9" stroke-linejoin="round"/>
<polygon points="350.50,350.40 350.50,349.50 352.00,347.00 352.80,335.00 353.50,322.00 354.40,314.10 355.30,321.00 356.20,333.00 357.00,344.00 358.00,349.00 358.00,350.40" fill="#d4d4d4" stroke="#666" stroke-width="0.8" stroke-linejoin="round"/>
<polygon points="354.60,350.40 354.60,349.80 355.40,342.00 356.20,333.60 357.00,324.00 357.70,318.80 358.40,323.00 358.90,327.70 359.70,339.50 360.60,345.00 361.50,347.70 364.00,349.20 368.00,349.80 368.00,350.40" fill="#cbcbcb" stroke="#8a8a8a" stroke-width="0.7" stroke-linejoin="round"/>
<polyline points="349.70,349.30 352.00,349.00 354.60,348.00 355.40,342.00 356.20,333.60 357.00,324.00 357.70,318.80 358.40,323.00 358.90,327.70 359.70,339.50 360.60,345.00 361.50,347.70 364.00,349.20" fill="none" stroke="#151515" stroke-width="0.95" stroke-linejoin="round"/>
<polyline points="364.00,349.20 370.00,349.70 393.50,349.90" fill="none" stroke="#222" stroke-width="0.9" stroke-linejoin="round"/>
<polygon points="401.50,350.40 401.50,349.50 403.00,347.00 403.80,335.00 404.50,322.00 405.20,314.10 406.00,321.00 406.80,333.00 407.60,344.00 408.60,349.00 408.60,350.40" fill="#d4d4d4" stroke="#666" stroke-width="0.8" stroke-linejoin="round"/>
<polygon points="404.80,350.40 404.80,349.80 405.50,342.00 406.20,333.60 406.80,324.00 407.20,318.80 407.90,323.00 408.50,327.70 409.30,339.50 410.30,345.00 411.50,347.70 414.00,349.20 418.00,349.80 418.00,350.40" fill="#cbcbcb" stroke="#8a8a8a" stroke-width="0.7" stroke-linejoin="round"/>
<polyline points="400.60,349.30 403.00,349.00 404.80,348.00 405.50,342.00 406.20,333.60 406.80,324.00 407.20,318.80 407.90,323.00 408.50,327.70 409.30,339.50 410.30,345.00 411.50,347.70 414.00,349.20" fill="none" stroke="#151515" stroke-width="0.95" stroke-linejoin="round"/>
<polyline points="414.00,349.20 420.00,349.70 444.30,349.90" fill="none" stroke="#222" stroke-width="0.9" stroke-linejoin="round"/>
<polygon points="453.70,350.40 453.70,349.80 454.30,348.30 455.40,339.50 456.60,326.50 457.40,320.80 458.40,325.30 459.60,336.00 461.30,343.00 463.70,347.70 467.20,349.50 470.00,349.90 470.00,350.40" fill="#cbcbcb" stroke="#8a8a8a" stroke-width="0.7" stroke-linejoin="round"/>
<polyline points="451.50,349.70 453.70,348.30 455.40,339.50 456.60,326.50 457.40,320.80 458.40,325.30 459.60,336.00 461.30,343.00 463.70,347.70 467.20,349.50" fill="none" stroke="#151515" stroke-width="0.95" stroke-linejoin="round"/>
<polyline points="467.20,349.50 472.00,349.80 494.50,349.90" fill="none" stroke="#222" stroke-width="0.9" stroke-linejoin="round"/>
</svg>
</body></html>
